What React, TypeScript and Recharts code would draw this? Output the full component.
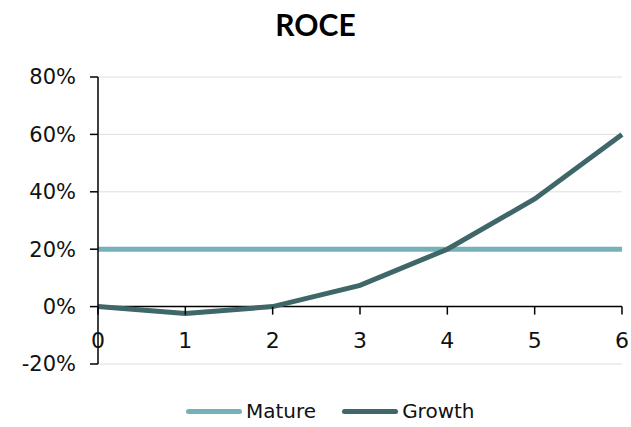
import { LineChart, Line, XAxis, YAxis, CartesianGrid, ReferenceLine } from 'recharts';

const years = [0, 1, 2, 3, 4, 5, 6];
const mature = [0.2, 0.2, 0.2, 0.2, 0.2, 0.2, 0.2];
const growth = [0, -0.024, 0, 0.074, 0.2, 0.375, 0.6];
const yTicks = [-0.2, 0, 0.2, 0.4, 0.6, 0.8];

const data = years.map((y, i) => ({ year: y, mature: mature[i], growth: growth[i] }));

const FONT = '"Century Gothic", "URW Gothic", "DejaVu Sans", sans-serif';
const TITLE_FONT = '"Century Gothic", Lato, sans-serif';
const MATURE = '#76b1b9';
const GROWTH = '#3f6668';

const W = 631;
const H = 427;
const XH = 30;
const M = { top: 77, right: 9, bottom: 63 - XH, left: 8 };
const plotH = H - 63 - M.top;
// pixel row of the 0% line
const zeroY = M.top + plotH * 0.8;

const XTick = (props: any) => {
  const { x, payload } = props;
  return (
    <g>
      <line x1={x} x2={x} y1={zeroY} y2={zeroY + 8} stroke="#000" strokeWidth={1.5} />
      <text x={x} y={zeroY + 41} textAnchor="middle" fontSize={22} fontFamily={FONT} fill="#111">
        {payload.value}
      </text>
    </g>
  );
};

const pct = (v: number) => `${Math.round(v * 100)}%`;

export default function App() {
  return (
    <div style={{ position: 'absolute', left: 0, top: 0, width: W, height: H, background: '#fff' }}>
      <div
        style={{
          position: 'absolute',
          top: 6,
          width: W,
          textAlign: 'center',
          fontFamily: TITLE_FONT,
          fontWeight: 'bold',
          fontSize: 30,
          color: '#000',
        }}
      >
        ROCE
      </div>
      <LineChart width={W} height={H} data={data} margin={M}>
        <CartesianGrid vertical={false} stroke="#dedede" strokeWidth={1} />
        <XAxis
          dataKey="year"
          type="number"
          domain={[0, 6]}
          ticks={years}
          axisLine={false}
          tickLine={false}
          tick={<XTick />}
          height={XH}
          interval={0}
        />
        <YAxis
          domain={[-0.2, 0.8]}
          ticks={yTicks}
          tickFormatter={pct}
          width={90}
          axisLine={{ stroke: '#000', strokeWidth: 1.5 }}
          tickLine={{ stroke: '#000', strokeWidth: 1.5 }}
          tickSize={8}
          tickMargin={14}
          tick={{ fill: '#111', fontSize: 21, fontFamily: FONT }}
          interval={0}
        />
        <ReferenceLine y={0} stroke="#000" strokeWidth={1.5} />
        <Line
          dataKey="mature"
          stroke={MATURE}
          strokeWidth={5}
          dot={false}
          isAnimationActive={false}
        />
        <Line
          dataKey="growth"
          stroke={GROWTH}
          strokeWidth={5}
          dot={false}
          isAnimationActive={false}
        />
      </LineChart>
      <div
        style={{
          position: 'absolute',
          top: 399,
          left: 186,
          display: 'flex',
          gap: 26,
          fontFamily: FONT,
          fontSize: 20,
          color: '#111',
        }}
      >
        {[
          { name: 'Mature', c: MATURE },
          { name: 'Growth', c: GROWTH },
        ].map((it) => (
          <div key={it.name} style={{ display: 'flex', alignItems: 'center' }}>
            <span
              style={{
                display: 'inline-block',
                width: 56,
                height: 5,
                borderRadius: 3,
                background: it.c,
                marginRight: 4,
              }}
            />
            <span>{it.name}</span>
          </div>
        ))}
      </div>
    </div>
  );
}
